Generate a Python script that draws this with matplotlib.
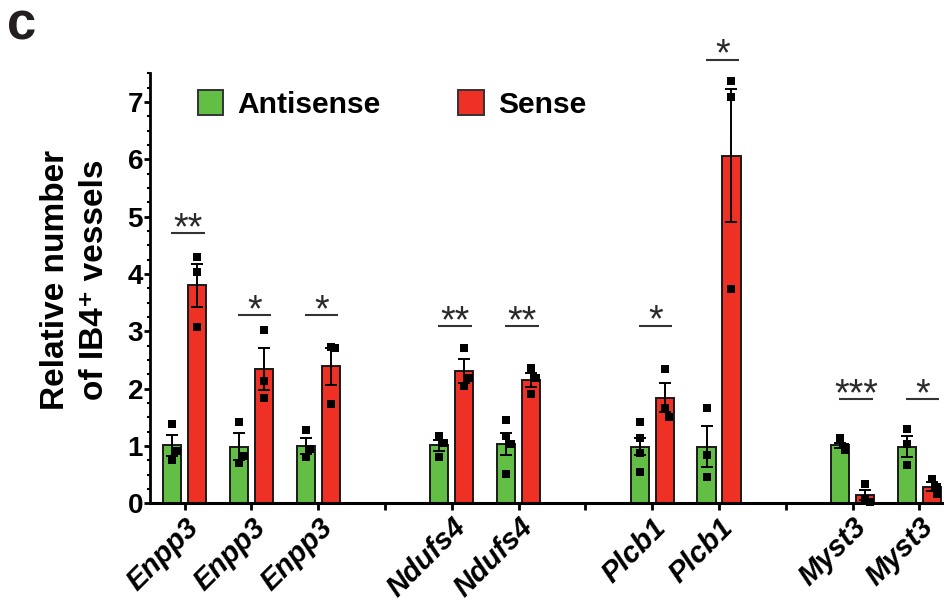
import numpy as np
import matplotlib.pyplot as plt
import matplotlib.transforms as mtransforms
from matplotlib.patches import Patch
from matplotlib.ticker import MultipleLocator

plt.rcParams['font.family'] = ['Liberation Sans', 'DejaVu Sans']

# tick slots along the x axis, blanks are the gaps between genes
tick_labels = ['Enpp3', 'Enpp3', 'Enpp3', '', 'Ndufs4', 'Ndufs4', '',
               'Plcb1', 'Plcb1', '', 'Myst3', 'Myst3']

# one entry per gene pair (Antisense vs Sense)
anti_mean = [1.01, 0.99, 1.00, 1.01, 1.04, 0.99, 0.99, 1.01, 0.99]
anti_sem = [0.18, 0.23, 0.14, 0.09, 0.19, 0.14, 0.36, 0.04, 0.18]
sense_mean = [3.80, 2.34, 2.39, 2.31, 2.15, 1.84, 6.06, 0.15, 0.29]
sense_sem = [0.37, 0.36, 0.32, 0.21, 0.12, 0.25, 1.16, 0.09, 0.08]

anti_points = [[1.38, 0.75, 0.91], [1.42, 0.71, 0.83], [1.27, 0.80, 0.94],
               [1.18, 1.05, 0.80], [1.45, 1.17, 1.03, 0.51],
               [1.41, 1.13, 0.87, 0.54], [1.67, 0.85, 0.45],
               [1.13, 0.98, 0.93], [1.29, 1.03, 0.66]]
sense_points = [[4.29, 4.04, 3.08], [3.03, 2.14, 1.84], [2.73, 2.71, 1.73],
                [2.70, 2.05, 2.18], [2.36, 2.19, 1.91], [2.34, 1.66, 1.51],
                [7.36, 7.08, 3.73], [0.33, 0.08, 0.03], [0.42, 0.28, 0.16]]

sig_labels = ['**', '*', '*', '**', '**', '*', '*', '***', '*']
sig_height = [4.72, 3.28, 3.28, 3.09, 3.09, 3.10, 7.74, 1.82, 1.82]

GREEN = '#63BE46'
RED = '#EE3124'
EDGE = '#1a1a1a'


def spread(vals, thr=0.17, step=0.07):
    """Small horizontal offsets so overlapping points sit side by side."""
    offs, placed = [], []
    for v in vals:
        n = sum(1 for p in placed if abs(p - v) < thr)
        off = 0.0 if n == 0 else step * ((n + 1) // 2) * (1 if n % 2 else -1)
        offs.append(off)
        placed.append(v)
    return np.array(offs)


fig = plt.figure(figsize=(9.45, 6.06), dpi=100)
ax = fig.add_axes([0.1587, 0.1695, 0.8413, 0.7096])

x = np.array([i for i, lab in enumerate(tick_labels) if lab])
d = 0.187
w = 0.27

ax.bar(x - d, anti_mean, width=w, color=GREEN, edgecolor=EDGE, linewidth=1.4, zorder=2)
ax.bar(x + d, sense_mean, width=w, color=RED, edgecolor=EDGE, linewidth=1.4, zorder=2)
ax.errorbar(x - d, anti_mean, yerr=anti_sem, fmt='none', ecolor='black',
            elinewidth=1.4, capsize=4, capthick=1.4, zorder=3)
ax.errorbar(x + d, sense_mean, yerr=sense_sem, fmt='none', ecolor='black',
            elinewidth=1.4, capsize=4, capthick=1.4, zorder=3)

for xi, pa, ps in zip(x, anti_points, sense_points):
    ax.scatter(xi - d + spread(pa), pa, marker='s', s=30, color='black',
               linewidths=0, zorder=4, clip_on=False)
    ax.scatter(xi + d + spread(ps), ps, marker='s', s=30, color='black',
               linewidths=0, zorder=4, clip_on=False)

# significance marks
for xi, lab, h in zip(x, sig_labels, sig_height):
    cx = xi + 0.05
    ax.plot([cx - 0.25, cx + 0.25], [h, h], color='#333333', lw=1.5,
            solid_capstyle='butt', clip_on=False, zorder=5)
    ax.annotate(lab, (cx, h), xytext=(0, -4.5), textcoords='offset points',
                ha='center', va='baseline', fontsize=27, color='#2a2a2a',
                annotation_clip=False)

ax.set_xlim(-0.518, 11.383)
ax.set_ylim(0, 7.5)
ax.set_xticks(np.arange(len(tick_labels)))
ax.set_xticklabels(tick_labels, rotation=45, ha='right', rotation_mode='anchor',
                   fontsize=21, fontweight='bold', fontstyle='italic')
shift = mtransforms.ScaledTranslation(-0.07, 0, fig.dpi_scale_trans)
for lab in ax.get_xticklabels():
    lab.set_transform(lab.get_transform() + shift)
ax.yaxis.set_major_locator(MultipleLocator(1))
ax.yaxis.set_minor_locator(MultipleLocator(0.25))
for lab in ax.get_yticklabels():
    lab.set_fontweight('bold')
ax.tick_params(axis='y', which='major', labelsize=20, length=4, width=2, pad=1)
ax.tick_params(axis='y', which='minor', length=2.5, width=1.5)
ax.tick_params(axis='x', which='major', length=5, width=2, pad=2)

for side in ['top', 'right']:
    ax.spines[side].set_visible(False)
ax.spines['left'].set_linewidth(2)
ax.spines['bottom'].set_linewidth(2.2)

ax.set_ylabel('Relative number\nof IB4\u207a vessels', fontsize=24,
              fontweight='bold', linespacing=1.35)
ax.yaxis.set_label_coords(-0.05, 0.52)

handles = [Patch(facecolor=GREEN, edgecolor='#333333', linewidth=1.4),
           Patch(facecolor=RED, edgecolor='#333333', linewidth=1.4)]
ax.legend(handles, ['Antisense', 'Sense'], loc='center left',
          bbox_to_anchor=(0.060, 0.927), ncol=2, frameon=False,
          prop=dict(weight='bold', size=21.6), handlelength=0.86,
          handleheight=0.9, handletextpad=0.47, columnspacing=2.57,
          borderpad=0, borderaxespad=0)

fig.text(7 / 945, 1 - 40 / 606, 'c', fontsize=38, fontweight='bold',
         va='baseline', color='#231f20')

fig.savefig('out.png', dpi=100)
